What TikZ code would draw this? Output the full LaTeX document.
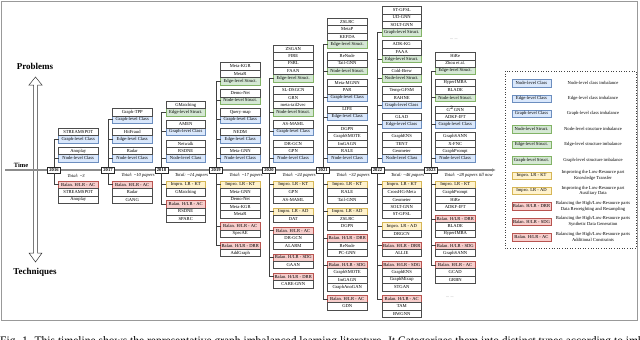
\documentclass[tikz,border=0pt]{standalone}
\usepackage{fontspec}
\setmainfont{Liberation Serif}
\usepackage{tikz}
\usetikzlibrary{positioning, arrows.meta}
\definecolor{glClass}{HTML}{DAE8FC}
\definecolor{glClassLine}{HTML}{6C8EBF}
\definecolor{glStruct}{HTML}{D5E8D4}
\definecolor{glStructLine}{HTML}{82B366}
\definecolor{glImpro}{HTML}{FFF2CC}
\definecolor{glImproLine}{HTML}{D6B656}
\definecolor{glBalan}{HTML}{F8CECC}
\definecolor{glBalanLine}{HTML}{B85450}

% stack paper boxes above / below a category box
\newcommand{\papersup}[2]{%
  \xdef\lastnode{#1}%
  \foreach \pname [count=\k] in {#2}{%
    \node[pap, above=0pt of \lastnode] (#1-\k) {\pname};
    \xdef\lastnode{#1-\k}%
  }%
}
\newcommand{\papersdown}[2]{%
  \xdef\lastnode{#1}%
  \foreach \pname [count=\k] in {#2}{%
    \node[pap, below=0pt of \lastnode] (#1-\k) {\pname};
    \xdef\lastnode{#1-\k}%
  }%
}

\begin{document}
\begin{tikzpicture}[x=1pt, y=-1pt,
  box/.style={draw, minimum width=39.5pt, minimum height=7.4pt, inner sep=0pt, outer sep=0pt, line width=0.4pt, font=\fontsize{4.6}{5}\selectfont},
  pap/.style={box, fill=white, draw=black!70},
  cls/.style={box, fill=glClass, draw=glClassLine},
  str/.style={box, fill=glStruct, draw=glStructLine},
  imp/.style={box, fill=glImpro, draw=glImproLine},
  bal/.style={box, fill=glBalan, draw=glBalanLine},
  yr/.style={draw=black!85, line width=0.8pt, fill=white, minimum width=13pt, minimum height=6pt, inner sep=0.5pt, font=\fontsize{4.6}{5}\selectfont\bfseries},
  tot/.style={anchor=west, font=\fontsize{4.6}{5}\selectfont\itshape},
  br/.style={draw=black!75, line width=0.5pt},
  axis/.style={draw=black!45, line width=1.1pt, -{Latex[length=4pt, width=3.5pt]}},
  lgd/.style={align=center, font=\fontsize{4.6}{5.6}\selectfont},
  more/.style={font=\fontsize{4}{5}\selectfont, text=black!60}
]
\useasboundingbox (0,0) rectangle (640,340);
\draw[black!40, line width=0.8pt] (1,1) rectangle (637.5,320.5);

% problems / techniques arrow
\draw[draw=black!80, fill=white, line width=0.5pt] (33.5,85) -- (29,85) -- (35.5,77) -- (42,85) -- (37.5,85)
  -- (37.5,253) -- (42,253) -- (35.5,262) -- (29,253) -- (33.5,253) -- cycle;
\node[font=\fontsize{9}{10}\selectfont\bfseries] (prob) at (35,66) {Problems};
\node[font=\fontsize{9}{10}\selectfont\bfseries] (tech) at (35,272) {Techniques};
\node[font=\fontsize{6.5}{7}\selectfont\bfseries] (time) at (21,165) {Time};

% time axis
\coordinate (t0) at (5,170);
\coordinate (t1) at (496,170);
\draw[axis] (t0) -- (t1);

% 2016
\node[yr] (y16) at (54,170) {2016};
\node[cls] (t16a) at (78.25,158.3) {Node-level Class};
\papersup{t16a}{Anoplay}
\node[cls, above=4.5pt of \lastnode] (t16b) {Graph-level Class};
\papersup{t16b}{STREAMSPOT}
\node[bal] (b16a) at (78.25,184.7) {Balan. H/LR - AC};
\papersdown{b16a}{STREAMSPOT, Anoplay}
\node[tot] (n16) at (64,175.5) {Total: \textasciitilde3};
\foreach \t in {t16a,t16b,b16a} \draw[br] (y16) |- (\t.west);

% 2017
\node[yr] (y17) at (108,170) {2017};
\node[cls] (t17a) at (132.25,158.3) {Node-level Class};
\papersup{t17a}{Radar}
\node[cls, above=4.5pt of \lastnode] (t17b) {Edge-level Class};
\papersup{t17b}{HitFraud}
\node[cls, above=4.5pt of \lastnode] (t17c) {Graph-level Class};
\papersup{t17c}{Graph-TPP}
\node[bal] (b17a) at (132.25,184.7) {Balan. H/LR - AC};
\papersdown{b17a}{Radar, GANG}
\node[tot] (n17) at (118,175.5) {Total: \textasciitilde10 papers};
\foreach \t in {t17a,t17b,t17c,b17a} \draw[br] (y17) |- (\t.west);

% 2018
\node[yr] (y18) at (161.5,170) {2018};
\node[cls] (t18a) at (185.75,158.3) {Node-level Class};
\papersup{t18a}{RSDNE, Netwalk}
\node[cls, above=4.5pt of \lastnode] (t18b) {Graph-level Class};
\papersup{t18b}{AMEN}
\node[str, above=4.5pt of \lastnode] (t18c) {Edge-level Struct.};
\papersup{t18c}{GMatching}
\node[imp] (b18a) at (185.75,184.7) {Impro. LR - KT};
\papersdown{b18a}{GMatching}
\node[bal, below=4.5pt of \lastnode] (b18b) {Balan. H/LR - AC};
\papersdown{b18b}{RSDNE, SPARC}
\node[tot] (n18) at (171.5,175.5) {Total: \textasciitilde14 papers};
\foreach \t in {t18a,t18b,t18c,b18a,b18b} \draw[br] (y18) |- (\t.west);

% 2019
\node[yr] (y19) at (216,170) {2019};
\node[cls] (t19a) at (240.25,158.3) {Node-level Class};
\papersup{t19a}{Meta-GNN}
\node[cls, above=4.5pt of \lastnode] (t19b) {Edge-level Class};
\papersup{t19b}{NEDM}
\node[cls, above=4.5pt of \lastnode] (t19c) {Graph-level Class};
\papersup{t19c}{Query-map}
\node[str, above=4.5pt of \lastnode] (t19d) {Node-level Struct.};
\papersup{t19d}{Demo-Net}
\node[str, above=4.5pt of \lastnode] (t19e) {Edge-level Struct.};
\papersup{t19e}{MetaR, Meta-KGR}
\node[imp] (b19a) at (240.25,184.7) {Impro. LR - KT};
\papersdown{b19a}{Meta-GNN, Demo-Net, Meta-KGR, MetaR}
\node[bal, below=4.5pt of \lastnode] (b19b) {Balan. H/LR - AC};
\papersdown{b19b}{SpecAE}
\node[bal, below=4.5pt of \lastnode] (b19c) {Balan. H/LR - DRR};
\papersdown{b19c}{AddGraph}
\node[tot] (n19) at (226,175.5) {Total: \textasciitilde17 papers};
\foreach \t in {t19a,t19b,t19c,t19d,t19e,b19a,b19b,b19c} \draw[br] (y19) |- (\t.west);

% 2020
\node[yr] (y20) at (269,170) {2020};
\node[cls] (t20a) at (293.25,158.3) {Node-level Class};
\papersup{t20a}{GPN, DR-GCN}
\node[cls, above=4.5pt of \lastnode] (t20b) {Graph-level Class};
\papersup{t20b}{AS-MAML}
\node[str, above=4.5pt of \lastnode] (t20c) {Node-level Struct.};
\papersup{t20c}{meta-tail2vec, GRN, SL-DSGCN}
\node[str, above=4.5pt of \lastnode] (t20d) {Edge-level Struct.};
\papersup{t20d}{FAAN, FSRL, FIRE, ZSGAN}
\node[imp] (b20a) at (293.25,184.7) {Impro. LR - KT};
\papersdown{b20a}{GPN, AS-MAML}
\node[imp, below=4.5pt of \lastnode] (b20b) {Impro. LR - AD};
\papersdown{b20b}{DAT}
\node[bal, below=4.5pt of \lastnode] (b20c) {Balan. H/LR - AC};
\papersdown{b20c}{DR-GCN, ALARM}
\node[bal, below=4.5pt of \lastnode] (b20d) {Balan. H/LR - SDG};
\papersdown{b20d}{GAAN}
\node[bal, below=4.5pt of \lastnode] (b20e) {Balan. H/LR - DRR};
\papersdown{b20e}{CARE-GNN}
\node[tot] (n20) at (279,175.5) {Total: \textasciitilde24 papers};
\foreach \t in {t20a,t20b,t20c,t20d,b20a,b20b,b20c,b20d,b20e} \draw[br] (y20) |- (\t.west);

% 2021
\node[yr] (y21) at (323,170) {2021};
\node[cls] (t21a) at (347.25,158.3) {Node-level Class};
\papersup{t21a}{RALE, ImGAGN, GraphSMOTE, DGPN}
\node[cls, above=4.5pt of \lastnode] (t21b) {Edge-level Class};
\papersup{t21b}{LIFE}
\node[cls, above=4.5pt of \lastnode] (t21c) {Graph-level Class};
\papersup{t21c}{PAR, Meta-MGNN}
\node[str, above=4.5pt of \lastnode] (t21d) {Node-level Struct.};
\papersup{t21d}{Tail-GNN, ReNode}
\node[str, above=4.5pt of \lastnode] (t21e) {Edge-level Struct.};
\papersup{t21e}{KEFDA, MetaP, ZSLRC}
\node[imp] (b21a) at (347.25,184.7) {Impro. LR - KT};
\papersdown{b21a}{RALE, Tail-GNN}
\node[imp, below=4.5pt of \lastnode] (b21b) {Impro. LR - AD};
\papersdown{b21b}{ZSLRC, DGPN}
\node[bal, below=4.5pt of \lastnode] (b21c) {Balan. H/LR - DRR};
\papersdown{b21c}{ReNode, PC-GNN}
\node[bal, below=4.5pt of \lastnode] (b21d) {Balan. H/LR - SDG};
\papersdown{b21d}{GraphSMOTE, ImGAGN, GraphAnoGAN}
\node[bal, below=4.5pt of \lastnode] (b21e) {Balan. H/LR - AC};
\papersdown{b21e}{GDN}
\node[tot] (n21) at (333,175.5) {Total: \textasciitilde32 papers};
\foreach \t in {t21a,t21b,t21c,t21d,t21e,b21a,b21b,b21c,b21d,b21e} \draw[br] (y21) |- (\t.west);

% 2022
\node[yr] (y22) at (377.5,170) {2022};
\node[cls] (t22a) at (401.75,158.3) {Node-level Class};
\papersup{t22a}{Geometer, TENT, GraphENS}
\node[cls, above=4.5pt of \lastnode] (t22b) {Edge-level Class};
\papersup{t22b}{GLAD}
\node[cls, above=4.5pt of \lastnode] (t22c) {Graph-level Class};
\papersup{t22c}{RAHNE, Temp-GFSM}
\node[str, above=4.5pt of \lastnode] (t22d) {Node-level Struct.};
\papersup{t22d}{Cold-Brew}
\node[str, above=4.5pt of \lastnode] (t22e) {Edge-level Struct.};
\papersup{t22e}{FAAA, ADK-KG}
\node[str, above=4.5pt of \lastnode] (t22f) {Graph-level Struct.};
\papersup{t22f}{SOLT-GNN, UD-GNN, ST-GFSL}
\node[imp] (b22a) at (401.75,184.7) {Impro. LR - KT};
\papersdown{b22a}{CrossHG-Meta, Geometer, SOLT-GNN, ST-GFSL}
\node[imp, below=4.5pt of \lastnode] (b22b) {Impro. LR - AD};
\papersdown{b22b}{DRGCN}
\node[bal, below=4.5pt of \lastnode] (b22c) {Balan. H/LR - DRR};
\papersdown{b22c}{ALLIE}
\node[bal, below=4.5pt of \lastnode] (b22d) {Balan. H/LR - SDG};
\papersdown{b22d}{GraphENS, GraphMixup, STGAN}
\node[bal, below=4.5pt of \lastnode] (b22e) {Balan. H/LR - AC};
\papersdown{b22e}{TAM, BWGNN}
\node[tot] (n22) at (387.5,175.5) {Total: \textasciitilde46 papers};
\foreach \t in {t22a,t22b,t22c,t22d,t22e,t22f,b22a,b22b,b22c,b22d,b22e} \draw[br] (y22) |- (\t.west);

% 2023
\node[yr] (y23) at (431,170) {2023};
\node[cls] (t23a) at (455.25,158.3) {Node-level Class};
\papersup{t23a}{GraphPrompt, X-FNC, GraphSANN}
\node[cls, above=4.5pt of \lastnode] (t23b) {Graph-level Class};
\papersup{t23b}{ADKF-IFT, G$^2$GNN}
\node[str, above=4.5pt of \lastnode] (t23c) {Node-level Struct.};
\papersup{t23c}{BLADE, HyperIMBA}
\node[str, above=4.5pt of \lastnode] (t23d) {Edge-level Struct.};
\papersup{t23d}{Zhou et al., HiRe}
\node[imp] (b23a) at (455.25,184.7) {Impro. LR - KT};
\papersdown{b23a}{GraphPrompt, HiRe, ADKF-IFT}
\node[bal, below=4.5pt of \lastnode] (b23b) {Balan. H/LR - DRR};
\papersdown{b23b}{BLADE, HyperIMBA}
\node[bal, below=4.5pt of \lastnode] (b23c) {Balan. H/LR - SDG};
\papersdown{b23c}{GraphSANN}
\node[bal, below=4.5pt of \lastnode] (b23d) {Balan. H/LR - AC};
\papersdown{b23d}{GCAD, GRBN}
\node[tot] (n23) at (441,175.5) {Total: \textasciitilde28 papers till now};
\foreach \t in {t23a,t23b,t23c,t23d,b23a,b23b,b23c,b23d} \draw[br] (y23) |- (\t.west);
\node[more] (more1) at (454,39) {... ...};
\node[more] (more2) at (450,297) {... ...};

% legend
\draw[dotted, line width=0.6pt, black!75] (505,71) rectangle (636,248);
\foreach \st/\lb/\ds [count=\i] in {
  cls/Node-level Class/Node-level class imbalance,
  cls/Edge-level Class/Edge-level class imbalance,
  cls/Graph-level Class/Graph-level class imbalance,
  str/Node-level Struct./Node-level structure imbalance,
  str/Edge-level Struct./Edge-level structure imbalance,
  str/Graph-level Struct./Graph-level structure imbalance,
  imp/Impro. LR - KT/{Improving the Low-Resource part\\Knowledge Transfer},
  imp/Impro. LR - AD/{Improving the Low-Resource part\\Auxiliary Data},
  bal/{Balan. H/LR - DRR}/{Balancing the High/Low-Resource parts\\Data Reweighting and Resampling},
  bal/{Balan. H/LR - SDG}/{Balancing the High/Low-Resource parts\\Synthetic Data Generation},
  bal/{Balan. H/LR - AC}/{Balancing the High/Low-Resource parts\\Additional Constraints}} {
  \node[\st] (lg\i) at (531.5,67.6+15.4*\i) {\lb};
  \node[lgd] (ld\i) at (593,67.6+15.4*\i) {\ds};
}

% caption (cut by the page edge)
\node[anchor=base west, inner sep=0pt, font=\fontsize{11.5}{13}\selectfont] (cap) at (0,344)
  {Fig. 1. This timeline shows the representative graph imbalanced learning literature. It Categorizes them into distinct types according to imbalanced learning in Problems and Techniques.};
\end{tikzpicture}
\end{document}
